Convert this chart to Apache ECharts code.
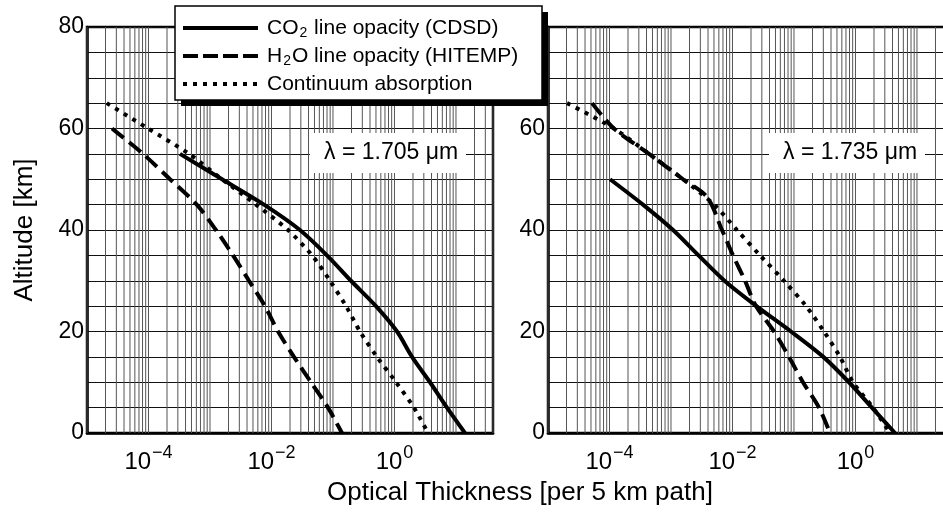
<!DOCTYPE html>
<html>
<head>
<meta charset="utf-8">
<script src="https://cdn.jsdelivr.net/npm/echarts@6/dist/echarts.min.js"></script>
<style>
html,body{margin:0;padding:0;background:#fff;}
#chart{width:943px;height:514px;}
</style>
</head>
<body>
<div id="chart"></div>
<script>
// ---------------- data ----------------
const yTickLabels = [0, 20, 40, 60, 80];
const xTickExponents = [-4, -2, 0];
const panelLabels = ['λ = 1.705 μm', 'λ = 1.735 μm'];
const xAxisTitle = 'Optical Thickness [per 5 km path]';
const yAxisTitle = 'Altitude [km]';

// Left panel (λ = 1.705 μm)
const altCO2Left  = [55, 50, 45, 40, 35, 30, 25, 20, 15, 10, 5, 0];
const co2Left     = [3.25e-4, 1.57e-3, 7.55e-3, 0.029, 0.0798, 0.196, 0.50, 1.10, 1.93, 3.78, 7.14, 14.0];
const altH2OLeft  = [60, 55, 50, 45, 40, 35, 30, 25, 20, 15, 10, 5, 0];
const h2oLeft     = [2.55e-5, 8.15e-5, 2.24e-4, 6.1e-4, 1.25e-3, 2.37e-3, 4.31e-3, 7.83e-3, 0.0128, 0.0232, 0.0439, 0.083, 0.14];
const altContLeft = [65, 60, 55, 50, 45, 40, 35, 30, 25, 20, 15, 10, 5, 0];
const contLeft    = [2.1e-5, 9.8e-5, 4.56e-4, 1.57e-3, 5.6e-3, 0.0185, 0.0456, 0.0893, 0.163, 0.275, 0.519, 1.06, 2.07, 3.51];

// Right panel (λ = 1.735 μm)
const altCO2Right  = [50, 45, 40, 35, 30, 25, 20, 15, 10, 5, 0];
const co2Right     = [1.02e-4, 3.5e-4, 1.08e-3, 2.8e-3, 7.4e-3, 0.0245, 0.0893, 0.30, 0.784, 1.85, 4.39];
const altH2ORight  = [65, 60, 55, 50, 46.5, 40, 35, 30, 25, 20, 15, 10, 5, 0];
const h2oRight     = [5.19e-5, 1.18e-4, 4.39e-4, 1.57e-3, 3.85e-3, 6.75e-3, 0.0102, 0.016, 0.0241, 0.0473, 0.083, 0.14, 0.255, 0.385];
const altContRight = [65, 60, 55, 50, 45, 40, 35, 30, 25, 20, 15, 10, 5, 0];
const contRight    = [2.04e-5, 1.18e-4, 4.39e-4, 1.57e-3, 5.0e-3, 0.0118, 0.028, 0.0687, 0.157, 0.307, 0.56, 0.91, 1.93, 3.64];

// ---------------- chart ----------------
const FONT = "'Liberation Sans', Arial, Helvetica, sans-serif";
const X_MIN = 1e-5, X_MAX = 40;

function pairs(xs, alts) { return xs.map((v, i) => [v, alts[i]]); }

// vertical log-grid lines (1..9 x each decade)
const logGridValues = [];
for (let e = -5; e <= 1; e++) {
  for (let k = 1; k <= 9; k++) {
    const v = k * Math.pow(10, e);
    if (v >= X_MIN * 0.999 && v <= X_MAX * 1.001) logGridValues.push(v);
  }
}

const styles = {
  co2:  { color: '#000', width: 4, type: 'solid' },
  h2o:  { color: '#000', width: 4, type: [15, 7] },
  cont: { color: '#000', width: 4, type: [4, 6] }
};

function xLabelFormatter(v) {
  const e = Math.log10(v);
  const r = Math.round(e);
  if (Math.abs(e - r) < 1e-6 && xTickExponents.indexOf(r) >= 0) {
    return '{b|10}{s|' + (r < 0 ? '\u2212' + (-r) : String(r)) + '}';
  }
  return '';
}

const grids = [
  { left: 87, top: 27, width: 406, height: 406 },
  { left: 548, top: 27, width: 406, height: 406 }
].map(g => Object.assign({
  show: true, borderColor: '#000', borderWidth: 2.5, backgroundColor: 'transparent',
  containLabel: false, outerBoundsMode: 'none'
}, g));

const xAxes = [0, 1].map(i => ({
  type: 'log', logBase: 10, gridIndex: i, min: X_MIN, max: X_MAX,
  axisLine: { show: true, onZero: false, lineStyle: { color: '#000', width: 2.5 } },
  axisTick: { show: false },
  splitLine: { show: false },
  axisLabel: {
    show: true, margin: 11, formatter: xLabelFormatter, showMinLabel: true, showMaxLabel: true,
    rich: {
      b: { fontSize: 24, fontFamily: FONT, color: '#000', lineHeight: 30, verticalAlign: 'bottom' },
      s: { fontSize: 18, fontFamily: FONT, color: '#000', lineHeight: 18, verticalAlign: 'top', padding: [0, 0, 0, 1] }
    }
  }
}));

const yAxes = [0, 1].map(i => ({
  type: 'value', gridIndex: i, min: 0, max: 80, interval: 5,
  axisLine: { show: true, lineStyle: { color: '#000', width: 2.5 } },
  axisTick: { show: false },
  splitLine: { show: true, lineStyle: { color: '#111', width: 1 } },
  axisLabel: {
    margin: 3, fontSize: 23, fontFamily: FONT, color: '#000',
    formatter: v => (yTickLabels.indexOf(v) >= 0 ? String(v) : '')
  }
}));

// custom series drawing the log-decade grid lines through the axis scale
function gridSeries(i) {
  return {
    type: 'custom', xAxisIndex: i, yAxisIndex: i, z: 1, silent: true, animation: false,
    data: logGridValues.map(v => [v, 0]),
    encode: { x: 0, y: 1 },
    renderItem: function (params, api) {
      const v = api.value(0);
      const p1 = api.coord([v, 0]);
      const p2 = api.coord([v, 80]);
      return {
        type: 'line',
        shape: { x1: p1[0], y1: p1[1], x2: p2[0], y2: p2[1] },
        style: { stroke: '#555', lineWidth: 1 }
      };
    }
  };
}

function curve(name, data, st, i, z) {
  return {
    name: name, type: 'line', xAxisIndex: i, yAxisIndex: i, data: data,
    showSymbol: false, symbol: 'none', smooth: 0.3, z: z, animation: false,
    lineStyle: { color: st.color, width: st.width, type: st.type, cap: 'butt' }
  };
}

const series = [
  gridSeries(0), gridSeries(1),
  curve('Continuum absorption', pairs(contLeft, altContLeft), styles.cont, 0, 3),
  curve('H2O line opacity (HITEMP)', pairs(h2oLeft, altH2OLeft), styles.h2o, 0, 4),
  curve('CO2 line opacity (CDSD)', pairs(co2Left, altCO2Left), styles.co2, 0, 5),
  curve('Continuum absorption', pairs(contRight, altContRight), styles.cont, 1, 3),
  curve('H2O line opacity (HITEMP)', pairs(h2oRight, altH2ORight), styles.h2o, 1, 4),
  curve('CO2 line opacity (CDSD)', pairs(co2Right, altCO2Right), styles.co2, 1, 5)
];

// legend and annotations drawn as graphic elements
const legendRows = [
  { y: 28, dash: null, text: '{a|CO}{s|2}{a| line opacity (CDSD)}' },
  { y: 56, dash: [15, 5], text: '{a|H}{s|2}{a|O line opacity (HITEMP)}' },
  { y: 84, dash: [4, 6], text: '{a|Continuum absorption}' }
];
const richLegend = {
  a: { fontSize: 21, fontFamily: FONT, fill: '#000' },
  s: { fontSize: 14, fontFamily: FONT, fill: '#000', padding: [11, 1, 0, 1] }
};

const graphic = [
  { type: 'rect', z: 100, shape: { x: 310, y: 133, width: 156, height: 40 }, style: { fill: '#fff' } },
  { type: 'text', z: 101, style: { x: 324, y: 153, text: panelLabels[0], font: '23px ' + FONT, fill: '#000', verticalAlign: 'middle', align: 'left' } },
  { type: 'rect', z: 100, shape: { x: 769, y: 133, width: 156, height: 40 }, style: { fill: '#fff' } },
  { type: 'text', z: 101, style: { x: 783, y: 153, text: panelLabels[1], font: '23px ' + FONT, fill: '#000', verticalAlign: 'middle', align: 'left' } },
  { type: 'text', z: 101, x: 25, y: 230, rotation: Math.PI / 2,
    style: { x: 0, y: 0, text: yAxisTitle, font: '26px ' + FONT, fill: '#000', align: 'center', verticalAlign: 'middle' } },
  { type: 'text', z: 101, style: { x: 520, y: 493, text: xAxisTitle, font: '26px ' + FONT, fill: '#000', align: 'center', verticalAlign: 'middle' } },
  // legend box with shadow
  { type: 'rect', z: 200, shape: { x: 181, y: 12, width: 367, height: 94 }, style: { fill: '#000' } },
  { type: 'rect', z: 201, shape: { x: 175, y: 6, width: 367, height: 94 }, style: { fill: '#fff', stroke: '#000', lineWidth: 1.5 } }
];
legendRows.forEach(r => {
  graphic.push({ type: 'line', z: 202, shape: { x1: 183, y1: r.y, x2: 258, y2: r.y },
    style: { stroke: '#000', lineWidth: 4, lineDash: r.dash, lineCap: 'butt' } });
  graphic.push({ type: 'text', z: 202, style: { x: 267, y: r.y, text: r.text, rich: richLegend,
    font: '21px ' + FONT, fill: '#000', verticalAlign: 'middle', align: 'left' } });
});

const chart = echarts.init(document.getElementById('chart'), null, { renderer: 'canvas' });
chart.setOption({
  animation: false,
  backgroundColor: '#fff',
  legend: { show: false },
  tooltip: { show: false },
  grid: grids,
  xAxis: xAxes,
  yAxis: yAxes,
  series: series,
  graphic: graphic
});
</script>
</body>
</html>
